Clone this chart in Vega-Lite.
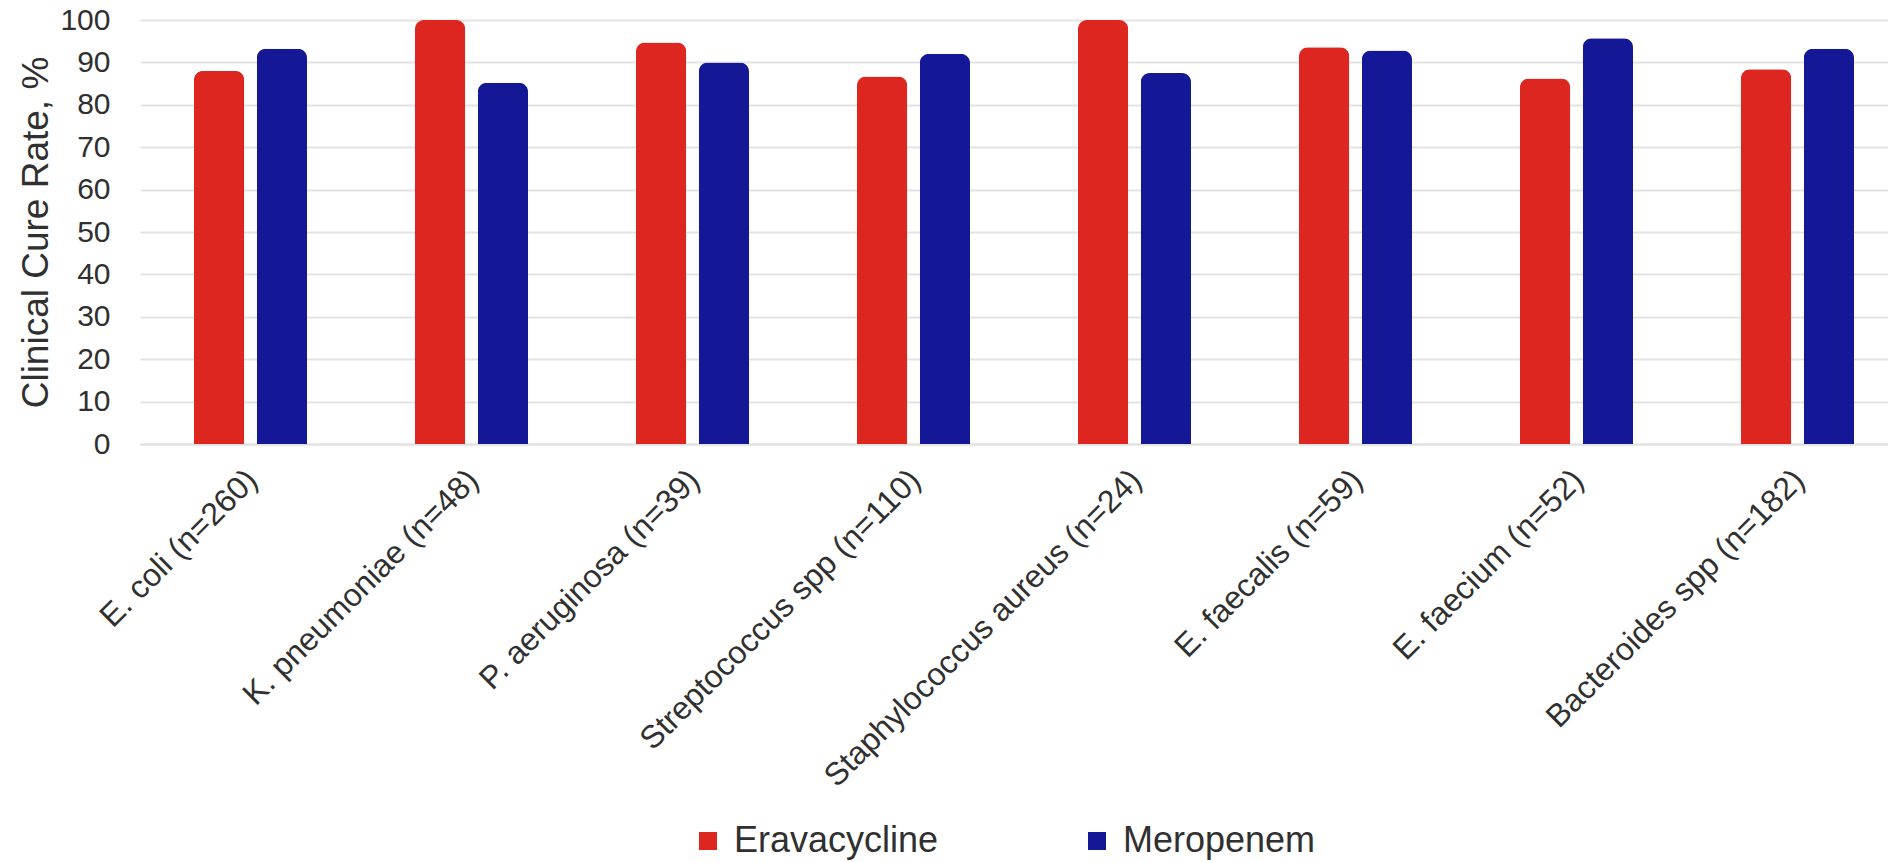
{
  "$schema": "https://vega.github.io/schema/vega-lite/v6.json",
  "autosize": {"type": "none"},
  "width": 1748,
  "height": 424,
  "padding": {"left": 140, "top": 20, "right": 0, "bottom": 418},
  "background": "white",
  "config": {
    "font": "Liberation Sans",
    "view": {"stroke": null}
  },
  "data": {
    "values": [
      {"organism": "E. coli (n=260)", "drug": "Eravacycline", "rate": 88.0},
      {"organism": "E. coli (n=260)", "drug": "Meropenem", "rate": 93.2},
      {"organism": "K. pneumoniae (n=48)", "drug": "Eravacycline", "rate": 100},
      {"organism": "K. pneumoniae (n=48)", "drug": "Meropenem", "rate": 85.2},
      {"organism": "P. aeruginosa (n=39)", "drug": "Eravacycline", "rate": 94.7},
      {"organism": "P. aeruginosa (n=39)", "drug": "Meropenem", "rate": 90.0},
      {"organism": "Streptococcus spp (n=110)", "drug": "Eravacycline", "rate": 86.7},
      {"organism": "Streptococcus spp (n=110)", "drug": "Meropenem", "rate": 92.0},
      {"organism": "Staphylococcus aureus (n=24)", "drug": "Eravacycline", "rate": 100},
      {"organism": "Staphylococcus aureus (n=24)", "drug": "Meropenem", "rate": 87.5},
      {"organism": "E. faecalis (n=59)", "drug": "Eravacycline", "rate": 93.6},
      {"organism": "E. faecalis (n=59)", "drug": "Meropenem", "rate": 92.8},
      {"organism": "E. faecium (n=52)", "drug": "Eravacycline", "rate": 86.2},
      {"organism": "E. faecium (n=52)", "drug": "Meropenem", "rate": 95.7},
      {"organism": "Bacteroides spp (n=182)", "drug": "Eravacycline", "rate": 88.4},
      {"organism": "Bacteroides spp (n=182)", "drug": "Meropenem", "rate": 93.2}
    ]
  },
  "mark": {"type": "bar", "cornerRadiusTopLeft": 9, "cornerRadiusTopRight": 9},
  "encoding": {
    "x": {
      "field": "organism",
      "type": "nominal",
      "sort": null,
      "scale": {"range": [0, 1768], "paddingInner": 0, "paddingOuter": 0},
      "axis": {
        "title": null,
        "labelAngle": -45,
        "labelFontSize": 32,
        "labelColor": "#303030",
        "labelLimit": 600,
        "labelPadding": 20,
        "labelOffset": -9,
        "ticks": false,
        "domain": true,
        "domainColor": "#e2e2e2",
        "domainWidth": 2
      }
    },
    "xOffset": {
      "field": "drug",
      "type": "nominal",
      "scale": {"paddingInner": 0.2, "paddingOuter": 0.86}
    },
    "y": {
      "field": "rate",
      "type": "quantitative",
      "scale": {"domain": [0, 100], "nice": false},
      "axis": {
        "title": "Clinical Cure Rate, %",
        "titleFontSize": 37,
        "titleFontWeight": "normal",
        "titleColor": "#303030",
        "titlePadding": 4,
        "values": [0, 10, 20, 30, 40, 50, 60, 70, 80, 90, 100],
        "labelFontSize": 30,
        "labelColor": "#303030",
        "labelPadding": 30,
        "ticks": false,
        "domain": false,
        "gridColor": "#e3e3e3",
        "gridWidth": 2
      }
    },
    "color": {
      "field": "drug",
      "type": "nominal",
      "scale": {"domain": ["Eravacycline", "Meropenem"], "range": ["#dd2620", "#151896"]},
      "legend": {
        "title": null,
        "orient": "none",
        "direction": "horizontal",
        "legendX": 550,
        "legendY": 803,
        "symbolType": "square",
        "symbolSize": 324,
        "symbolStrokeWidth": 0,
        "labelFontSize": 36,
        "labelColor": "#303030",
        "labelLimit": 600,
        "labelOffset": 8,
        "columnPadding": 140
      }
    }
  }
}
